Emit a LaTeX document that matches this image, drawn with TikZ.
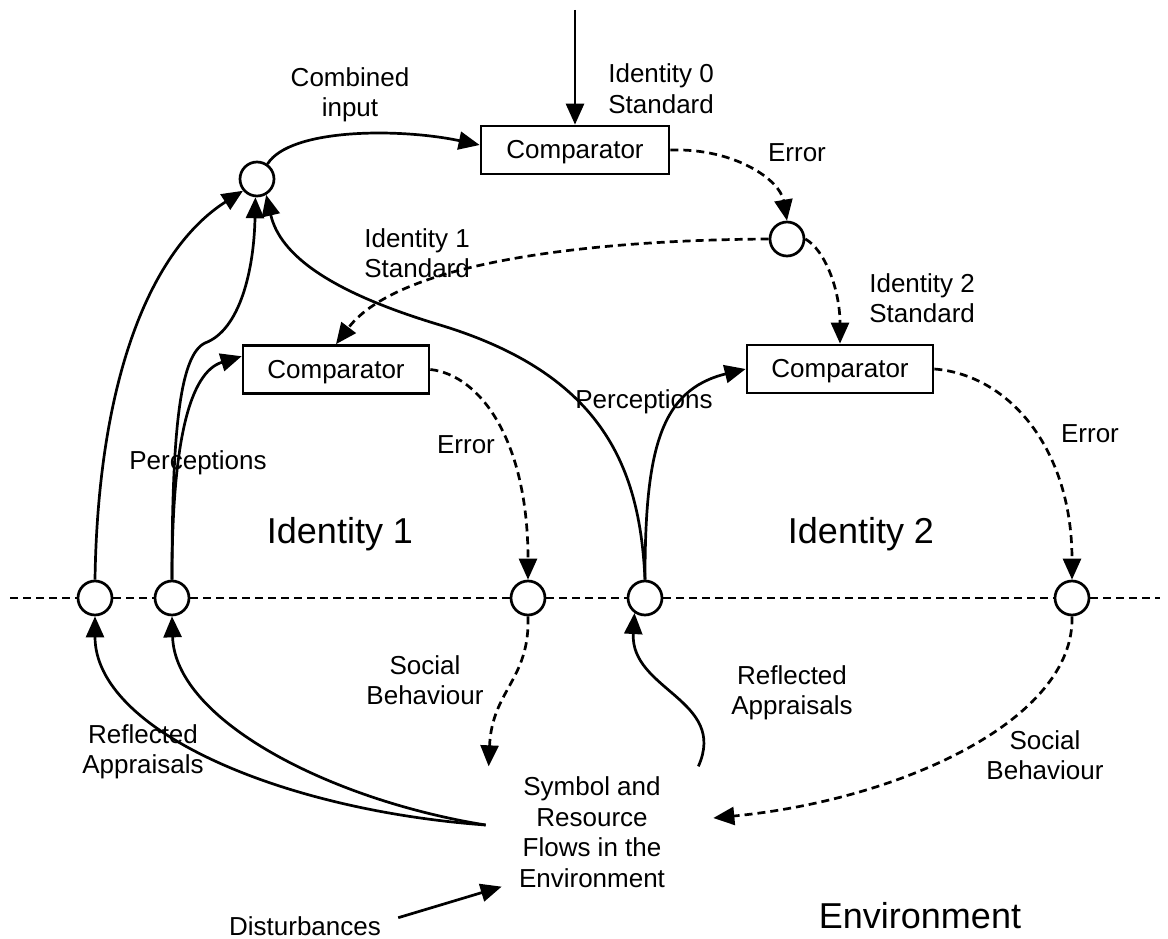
\documentclass[tikz,border=0pt]{standalone}
\usepackage{fontspec}
\setmainfont{Liberation Sans}
\usetikzlibrary{arrows.meta}

\begin{document}
\begin{tikzpicture}[x=1pt,y=-1pt,
  line width=2.7pt,
  lbl/.style={font=\fontsize{26}{30.5}\selectfont, inner sep=0pt, align=center},
  biglbl/.style={font=\fontsize{36}{40}\selectfont, inner sep=0pt},
  cmpbox/.style={draw, rectangle, minimum width=186pt, minimum height=48pt,
                 inner sep=0pt, text height=17pt, text depth=0pt,
                 font=\fontsize{26}{30}\selectfont},
  sumnode/.style={draw, circle, minimum size=34pt, inner sep=0pt, fill=white},
  flow/.style={-{Triangle[length=21pt,width=18pt]}},
  sig/.style={flow, dash pattern=on 8pt off 5pt},
  axis/.style={dash pattern=on 8pt off 5pt},
]
\useasboundingbox (0,0) rectangle (1168,939);

% comparators
\node[cmpbox, minimum width=188pt] (cmp0) at (575,150) {Comparator};
\node[cmpbox] (cmp1) at (336,369.5) {Comparator};
\node[cmpbox] (cmp2) at (840,369) {Comparator};

% summing points
\node[sumnode] (s0) at (257,179) {};
\node[sumnode] (s1) at (787,239) {};
\node[sumnode] (sa) at (95,598) {};
\node[sumnode] (sb) at (172,598) {};
\node[sumnode] (sc) at (528,598) {};
\node[sumnode] (sd) at (645,598) {};
\node[sumnode] (se) at (1072,598) {};

% environment block
\node[lbl, minimum width=216pt, minimum height=100pt] (env) at (592,832)
  {Symbol and\\Resource\\Flows in the\\Environment};
\node[lbl, anchor=base] (dist) at (305,935) {Disturbances};

% boundary between person and environment
\coordinate (axL) at (10,598);
\coordinate (axR) at (1160,598);
\draw[axis] (axL) -- (sa) -- (sb) -- (sc) -- (sd) -- (se) -- (axR);

% top standard
\coordinate (topin) at (575,10);
\draw[flow] (topin) -- (cmp0.north);

% combined input
\draw[flow] (s0.55) .. controls (290,128) and (400,128) .. (cmp0.177);

% error of identity 0 and the standards it sets
\draw[sig] (cmp0.east) .. controls (735,148) and (780,180) .. (s1.north);
\draw[sig] (s1.east) .. controls (825,250) and (840,290) .. (cmp2.north);
\draw[sig] (s1.west) .. controls (600,240) and (400,260) .. (cmp1.north);

% errors of identities 1 and 2
\draw[sig] (cmp1.east) .. controls (480,375) and (528,440) .. (sc.north);
\draw[sig] (cmp2.east) .. controls (1010,375) and (1072,450) .. (se.north);

% perceptions
\draw[flow] (sa.north) .. controls (98,380) and (150,250) .. (s0.220);
\draw[flow] (sb.north) .. controls (172,430) and (180,355) .. (205,343)
            .. controls (240,330) and (254,270) .. (s0.265);
\draw[flow] (sb.north) .. controls (172,440) and (190,372) .. (cmp1.172);
\draw[flow] (sd.north) .. controls (640,470) and (605,375) .. (440,325)
            .. controls (330,292) and (280,255) .. (s0.300);
\draw[flow] (sd.north) .. controls (645,450) and (660,390) .. (cmp2.west);

% social behaviour
\draw[sig] (sc.south) .. controls (530,680) and (492,690) .. ([xshift=6pt,yshift=9pt]env.north west);
\draw[sig] (se.south) .. controls (1075,720) and (900,800) .. ([xshift=12pt,yshift=14pt]env.east);

% reflected appraisals
\draw[flow] ([xshift=3pt,yshift=7pt]env.west) .. controls (280,810) and (95,730) .. (sa.south);
\draw[flow] ([xshift=3pt,yshift=7pt]env.west) .. controls (330,800) and (175,720) .. (sb.south);
\draw[flow] ([xshift=-3pt,yshift=9pt]env.north east) .. controls (728,700) and (630,690) .. (sd.235);

% disturbances
\draw[flow] ([xshift=16pt,yshift=8pt]dist.east) -- ([xshift=19pt,yshift=2pt]env.south west);

% labels
\node[lbl] (lcomb) at (350,95) {Combined\\input};
\node[lbl, align=left, anchor=west] (lid0) at (607,88.5) {Identity 0\\Standard};
\node[lbl, anchor=base] (lerr0) at (797,162) {Error};
\node[lbl, align=left, anchor=west] (lid1) at (363,253) {Identity 1\\Standard};
\node[lbl, align=left, anchor=west] (lid2) at (868,298) {Identity 2\\Standard};
\node[lbl, anchor=base] (lperc1) at (198,469) {Perceptions};
\node[lbl, anchor=base] (lperc2) at (644,408) {Perceptions};
\node[lbl, anchor=base] (lerr1) at (466,453) {Error};
\node[lbl, anchor=base] (lerr2) at (1090,442) {Error};
\node[biglbl, anchor=base] (lI1) at (340,543) {Identity 1};
\node[biglbl, anchor=base] (lI2) at (861,543) {Identity 2};
\node[lbl] (lsoc1) at (425,680) {Social\\Behaviour};
\node[lbl] (lsoc2) at (1045,755) {Social\\Behaviour};
\node[lbl] (lref1) at (143,752) {Reflected\\Appraisals};
\node[lbl] (lref2) at (792,693) {Reflected\\Appraisals};
\node[biglbl, anchor=base] (lenv) at (920,928) {Environment};
\end{tikzpicture}
\end{document}
